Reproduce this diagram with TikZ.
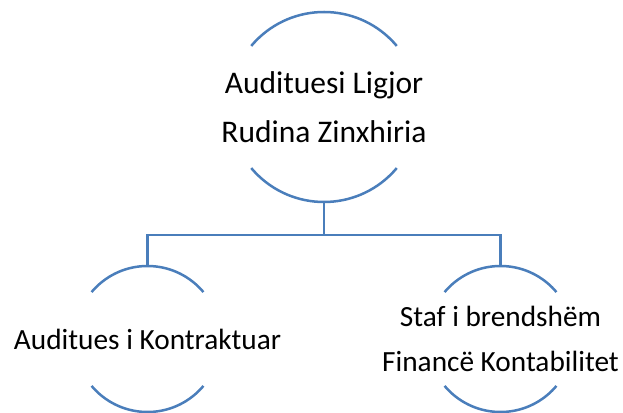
\documentclass[tikz,border=0pt]{standalone}
\usepackage{fontspec}
\setmainfont{Carlito}
\usepackage{tikz}
\usepackage{xcolor}
\definecolor{orgblue}{RGB}{74,126,187}

\begin{document}
\begin{tikzpicture}%
  [x=1pt,y=1pt,line width=2.5pt,
   level distance=232pt,sibling distance=353pt,
   edge from parent/.style={draw=orgblue},
   edge from parent path={(\tikzparentnode.south) -- +(0,-33) -| (\tikzchildnode.north)}]
  \tikzstyle{top node}=[circle,draw=orgblue,inner sep=0,outer sep=0,minimum size=190pt,
    dash pattern=on 165.81pt off 132.65pt,dash phase=232.13pt]
  \tikzstyle{sub node}=[circle,draw=orgblue,inner sep=0,outer sep=0,minimum size=146pt,
    dash pattern=on 127.41pt off 101.93pt,dash phase=178.37pt]
  \tikzstyle{top text}=[align=center,font=\fontsize{31.5}{48.5}\selectfont]
  \tikzstyle{sub text}=[align=center,font=\fontsize{29.3}{45}\selectfont]
  \useasboundingbox (0,0) rectangle (623,412);
  \node(root)[top node,label={[top text]center:Audituesi Ligjor\\Rudina Zinxhiria}] at (324,305) {}
    child{node(aud)[sub node,label={[sub text]center:Auditues i Kontraktuar}]{}}
    child{node(staf)[sub node,label={[sub text]center:Staf i brendshëm\\Financë Kontabilitet}]{}
    };
\end{tikzpicture}
\end{document}
